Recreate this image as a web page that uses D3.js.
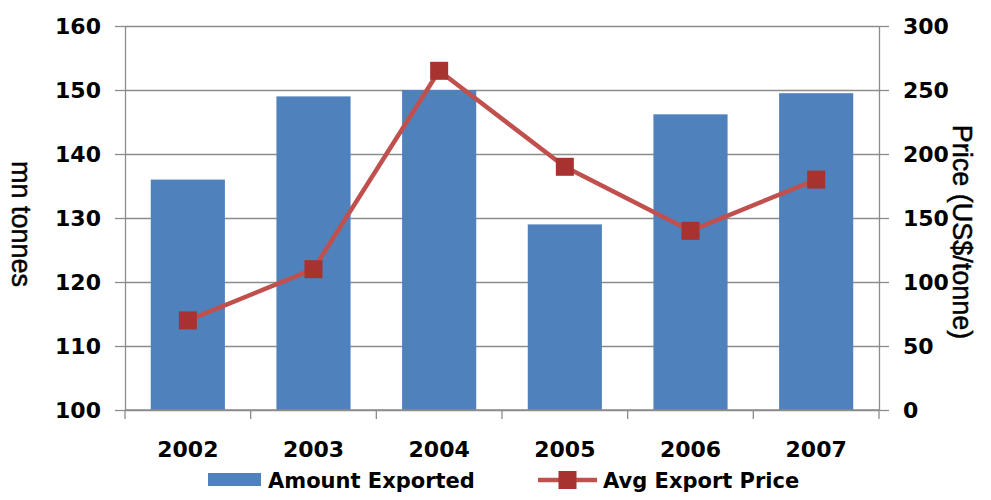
<!DOCTYPE html>
<meta charset="utf-8">
<head>
<title>Exports</title>
<style>
body { margin: 0; background: #fff; }
.tick text { font: bold 22px "DejaVu Sans", sans-serif; fill: #000; }
.title { font: 27px "Liberation Sans", Arial, sans-serif; fill: #000; stroke: #000; stroke-width: 0.5px; }
.legend { font: bold 21px "DejaVu Sans", sans-serif; fill: #000; }
</style>
</head>
<body>
<script src="https://d3js.org/d3.v7.min.js"></script>
<script>

// Data
var years = ["2002", "2003", "2004", "2005", "2006", "2007"];
var exported = [136, 149, 150, 129, 146.2, 149.5];   // mn tonnes
var price = [70, 110, 265, 190, 140, 180];           // US$/tonne
var leftTicks = [100, 110, 120, 130, 140, 150, 160];
var rightTicks = [0, 50, 100, 150, 200, 250, 300];

var margin = {top: 26, right: 112, bottom: 90, left: 125},
    width = 991 - margin.left - margin.right,
    height = 500 - margin.top - margin.bottom;

var svg = d3.select("body").append("svg")
    .attr("width", 991)
    .attr("height", 500)
  .append("g")
    .attr("transform", "translate(" + margin.left + "," + margin.top + ")");

var x = d3.scaleBand().domain(years).range([0, width]).paddingInner(0.41).paddingOuter(0.205);
var yL = d3.scaleLinear().domain([100, 160]).range([height, 0]);
var yR = d3.scaleLinear().domain([0, 300]).range([height, 0]);

// gridlines
svg.selectAll(".grid")
    .data(leftTicks)
  .enter().append("line")
    .attr("class", "grid")
    .attr("x1", 0).attr("x2", width)
    .attr("y1", function(d) { return Math.round(yL(d)) + 0.5; })
    .attr("y2", function(d) { return Math.round(yL(d)) + 0.5; })
    .attr("stroke", "#8c8c8c")
    .attr("stroke-width", 1.3);

// bars
svg.selectAll(".bar")
    .data(years)
  .enter().append("rect")
    .attr("class", "bar")
    .attr("x", function(d) { return x(d); })
    .attr("width", x.bandwidth())
    .attr("y", function(d, i) { return yL(exported[i]); })
    .attr("height", function(d, i) { return height - yL(exported[i]); })
    .attr("fill", "#4f81bd");

// axes
var leftAxis = svg.append("g")
    .call(d3.axisLeft(yL).tickValues(leftTicks).tickSize(10).tickPadding(14));
var rightAxis = svg.append("g")
    .attr("transform", "translate(" + width + ",0)")
    .call(d3.axisRight(yR).tickValues(rightTicks).tickSize(10).tickPadding(14));

var bound = d3.range(years.length + 1).map(function(i) { return i * width / years.length; });
var bottomAxis = svg.append("g")
    .attr("transform", "translate(0," + height + ")");
bottomAxis.append("line")
    .attr("x1", 0).attr("x2", width)
    .attr("stroke", "#8c8c8c").attr("stroke-width", 1.3);
bottomAxis.selectAll(".xt")
    .data(bound)
  .enter().append("line")
    .attr("x1", function(d) { return d; }).attr("x2", function(d) { return d; })
    .attr("y1", 0).attr("y2", 9)
    .attr("stroke", "#8c8c8c").attr("stroke-width", 1.3);
bottomAxis.selectAll(".xl")
    .data(years)
  .enter().append("text")
    .attr("x", function(d) { return x(d) + x.bandwidth() / 2; })
    .attr("y", 47)
    .attr("text-anchor", "middle")
    .style("font", "bold 22px 'DejaVu Sans', sans-serif")
    .style("fill", "#000")
    .text(function(d) { return d; });

[leftAxis, rightAxis].forEach(function(a) {
    a.selectAll("path, line").attr("stroke", "#8c8c8c").attr("stroke-width", 1.3);
    a.select(".domain").attr("d", "M0.5,0V" + height);
    a.selectAll("text").attr("dy", "0.36em");
});

// price line
var line = d3.line()
    .x(function(d, i) { return x(years[i]) + x.bandwidth() / 2; })
    .y(function(d) { return yR(d); });

svg.append("path")
    .datum(price)
    .attr("d", line)
    .attr("fill", "none")
    .attr("stroke", "#c0504d")
    .attr("stroke-width", 4.5)
    .attr("stroke-linejoin", "round");

var ms = 18;
svg.selectAll(".marker")
    .data(price)
  .enter().append("rect")
    .attr("class", "marker")
    .attr("x", function(d, i) { return x(years[i]) + x.bandwidth() / 2 - ms / 2; })
    .attr("y", function(d) { return yR(d) - ms / 2; })
    .attr("width", ms).attr("height", ms)
    .attr("fill", "#a8322f");

// axis titles
svg.append("text")
    .attr("class", "title")
    .attr("transform", "translate(" + (-margin.left + 12) + "," + (height / 2 + 6) + ") rotate(90)")
    .attr("text-anchor", "middle")
    .text("mn tonnes");

svg.append("text")
    .attr("class", "title")
    .attr("transform", "translate(" + (width + 74) + "," + (height / 2 + 14) + ") rotate(90)")
    .attr("text-anchor", "middle")
    .text("Price (US$/tonne)");

// legend
var legend = svg.append("g").attr("transform", "translate(0," + (height + 70) + ")");
legend.append("rect")
    .attr("x", 83).attr("y", -7)
    .attr("width", 53).attr("height", 13)
    .attr("fill", "#4f81bd");
legend.append("text")
    .attr("class", "legend")
    .attr("x", 143).attr("y", 8)
    .text("Amount Exported");
legend.append("line")
    .attr("x1", 413).attr("x2", 472)
    .attr("stroke", "#c0504d").attr("stroke-width", 4.5);
legend.append("rect")
    .attr("x", 442.5 - ms / 2).attr("y", -ms / 2)
    .attr("width", ms).attr("height", ms)
    .attr("fill", "#a8322f");
legend.append("text")
    .attr("class", "legend")
    .attr("x", 478).attr("y", 8)
    .text("Avg Export Price");

</script>
</body>
